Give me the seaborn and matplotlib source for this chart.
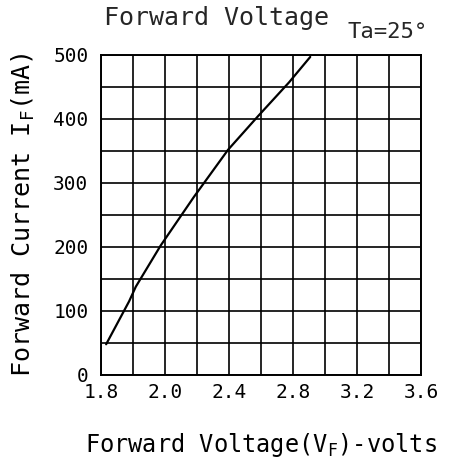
import matplotlib
matplotlib.use("Agg")
import matplotlib.pyplot as plt
import seaborn as sns
import pandas as pd
import numpy as np

# Data (x in axis units: axis spans 1.8..3.6 uniformly, 10 grid cells)
voltage = [1.829, 1.958, 1.996, 2.135, 2.322, 2.515, 2.682, 2.857, 2.977]
current_mA = [48, 115, 138, 202, 278, 352, 404, 457, 497]

x_tick_pos = [1.8, 2.16, 2.52, 2.88, 3.24, 3.6]
x_tick_labels = ["1.8", "2.0", "2.4", "2.8", "3.2", "3.6"]
y_ticks = [0, 100, 200, 300, 400, 500]

sns.set_style("white")
plt.rcParams["font.family"] = ["DejaVu Sans Mono", "DejaVu Sans"]
plt.rcParams["mathtext.default"] = "regular"

fig = plt.figure(figsize=(4.5, 4.66), dpi=100)
ax = fig.add_axes([0.2244, 0.1953, 0.7112, 0.6867])

df = pd.DataFrame({"V": voltage, "I": current_mA})
sns.lineplot(data=df, x="V", y="I", ax=ax, color="black", linewidth=1.6)

ax.set_xlim(1.8, 3.6)
ax.set_ylim(0, 500)
ax.set_xticks(np.linspace(1.8, 3.6, 11), minor=True)
ax.set_yticks(np.linspace(0, 500, 11), minor=True)
ax.set_xticks(x_tick_pos)
ax.set_xticklabels(x_tick_labels)
ax.set_yticks(y_ticks)
ax.set_yticklabels([str(v) for v in y_ticks])
ax.grid(True, which="both", color="black", linewidth=1.2)
ax.tick_params(which="both", length=0, labelsize=14, colors="black")
ax.tick_params(axis="x", pad=6)
ax.tick_params(axis="y", pad=9)
for s in ax.spines.values():
    s.set_color("black")
    s.set_linewidth(1.4)

ax.set_xlabel("Forward Voltage(V$_F$)-volts", fontsize=17, labelpad=21, color="black")
ax.set_ylabel("Forward Current I$_F$(mA)", fontsize=18, labelpad=12, color="black")

fig.text(0.482, 0.961, "Forward Voltage", ha="center", va="center", fontsize=18)
fig.text(0.862, 0.931, "Ta=25°", ha="center", va="center", fontsize=16)

fig.savefig("out.png", dpi=100)
